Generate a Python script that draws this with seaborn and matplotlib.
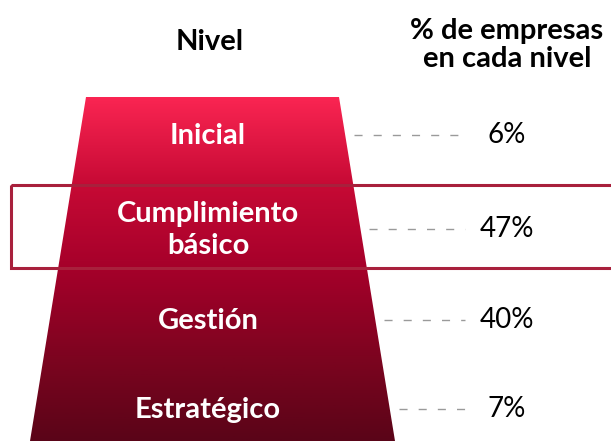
import numpy as np
import pandas as pd
import matplotlib
matplotlib.use("Agg")
import matplotlib.pyplot as plt
from matplotlib.patches import Polygon, Rectangle
from matplotlib.colors import LinearSegmentedColormap
import seaborn as sns

# Data
niveles = ["Inicial", "Cumplimiento\nbásico", "Gestión", "Estratégico"]
porcentajes = [6, 47, 40, 7]
titulo_nivel = "Nivel"
titulo_pct = "% de empresas\nen cada nivel"
destacado = "Cumplimiento\nbásico"

df = pd.DataFrame({"nivel": niveles, "pct": porcentajes})

sns.set_theme(style="white")
plt.rcParams["font.family"] = ["Lato", "DejaVu Sans"]

W, H = 611, 441
fig = plt.figure(figsize=(W / 100, H / 100), dpi=100)
ax = fig.add_axes([0, 0, 1, 1])
ax.set_xlim(0, W)
ax.set_ylim(H, 0)
ax.axis("off")

# Funnel geometry (pixel layout)
top_y, bot_y = 97, 441
top_l, top_r = 86, 339
bot_l, bot_r = 30, 395

cmap = LinearSegmentedColormap.from_list(
    "funnel", ["#FA2552", "#C70A35", "#A5002A", "#7E0420", "#5A0418"])
grad = np.linspace(0, 1, 256).reshape(-1, 1)
img = ax.imshow(grad, cmap=cmap, aspect="auto",
                extent=[bot_l, bot_r, bot_y, top_y], zorder=1)
poly = Polygon([[top_l, top_y], [top_r, top_y], [bot_r, bot_y], [bot_l, bot_y]],
               closed=True, facecolor="none", edgecolor="none")
ax.add_patch(poly)
img.set_clip_path(poly)

# Row centres
row_y = [135, 229, 320, 409]

def edge_right(y):
    return top_r + (bot_r - top_r) * (y - top_y) / (bot_y - top_y)

for (_, r), y in zip(df.iterrows(), row_y):
    ax.text(208, y + 1, r["nivel"], ha="center", va="center", color="white",
            fontsize=21, fontweight="bold", linespacing=1.3, zorder=3)
    x0 = edge_right(y) + 9
    ax.plot([x0, 465], [y, y], color="#9a9a9a", lw=1.0,
            linestyle=(0, (5.8, 8)), zorder=2)
    ax.text(507, y, f"{r['pct']}%", ha="center", va="center", color="black",
            fontsize=20, zorder=3)

# Highlight box
i = niveles.index(destacado)
ax.add_patch(Rectangle((11, 185), 640, 83, facecolor="none",
                       edgecolor="#A8203C", lw=2.2, zorder=4))

# Headers
ax.text(210, 42, titulo_nivel, ha="center", va="center", fontsize=21,
        fontweight="bold", color="black")
ax.text(507, 45, titulo_pct, ha="center", va="center", fontsize=21,
        fontweight="bold", color="black", linespacing=1.12)

fig.savefig("out.png", dpi=100)
